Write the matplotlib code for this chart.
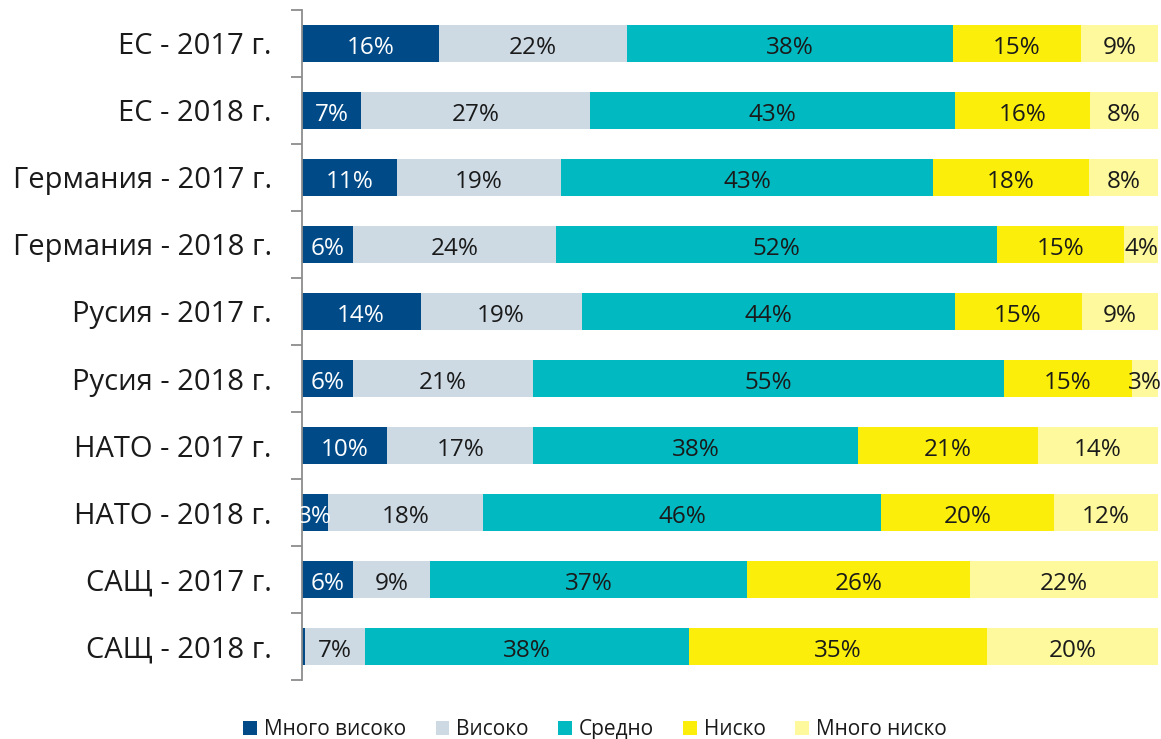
import numpy as np
import matplotlib
matplotlib.use("Agg")
from matplotlib import pyplot as plt

plt.rcParams['font.family'] = ['Open Sans', 'DejaVu Sans']

categories = ["ЕС - 2017 г.", "ЕС - 2018 г.", "Германия - 2017 г.", "Германия - 2018 г.",
              "Русия - 2017 г.", "Русия - 2018 г.", "НАТО - 2017 г.", "НАТО - 2018 г.",
              "САЩ - 2017 г.", "САЩ - 2018 г."]
series = ["Много високо", "Високо", "Средно", "Ниско", "Много ниско"]

very_high = [16, 7, 11, 6, 14, 6, 10, 3, 6, 0.4]
high = [22, 27, 19, 24, 19, 21, 17, 18, 9, 7]
medium = [38, 43, 43, 52, 44, 55, 38, 46, 37, 38]
low = [15, 16, 18, 15, 15, 15, 21, 20, 26, 35]
very_low = [9, 8, 8, 4, 9, 3, 14, 12, 22, 20]

colors = ["#004a87", "#cddae4", "#00b9c1", "#faee0a", "#fdf99c"]
text_colors = ["white", "#1a1a1a", "#1a1a1a", "#1a1a1a", "#1a1a1a"]

data = np.array([very_high, high, medium, low, very_low], dtype=float)
totals = data.sum(axis=0)
shares = data / totals * 100

fig = plt.figure(figsize=(11.61, 7.39), dpi=100)
ax = fig.add_axes([0.260, 0.0798, 0.7374, 0.9067])

y = np.arange(len(categories))
left = np.zeros(len(categories))
for i, name in enumerate(series):
    bars = ax.barh(y, shares[i], left=left, height=0.55, color=colors[i], label=name)
    # percent labels, skip the near-zero sliver
    for j, b in enumerate(bars):
        v = data[i][j]
        if v >= 1:
            ax.text(b.get_x() + b.get_width() / 2, b.get_y() + b.get_height() / 2 + 0.155,
                    f"{v:.0f}%", ha='center', va='baseline', fontsize=17.5,
                    color=text_colors[i])
    left += shares[i]

ax.set_xlim(0, 100)
ax.set_ylim(len(categories) - 0.5, -0.5)
ax.set_xticks([])
ax.set_yticks(np.arange(-0.5, len(categories)), minor=False)
ax.set_yticklabels([])
ax.set_yticks(y, minor=True)
ax.set_yticklabels(categories, minor=True, fontsize=21, color="#1a1a1a")
ax.tick_params(axis='y', which='major', length=8, color="#8c8c8c", width=1.3)
ax.tick_params(axis='y', which='minor', length=0, pad=21.5)
for s in ['top', 'right', 'bottom']:
    ax.spines[s].set_visible(False)
ax.spines['left'].set_color("#8c8c8c")
ax.spines['left'].set_linewidth(1.3)

fig.legend(*ax.get_legend_handles_labels(), loc='upper center',
           bbox_to_anchor=(0.5125, 0.027), ncol=5, frameon=False,
           fontsize=15, handlelength=0.65, handleheight=0.65, handletextpad=0.35,
           columnspacing=1.4, labelcolor="#1a1a1a", borderaxespad=0, borderpad=0)

fig.savefig("out.png", dpi=100)
